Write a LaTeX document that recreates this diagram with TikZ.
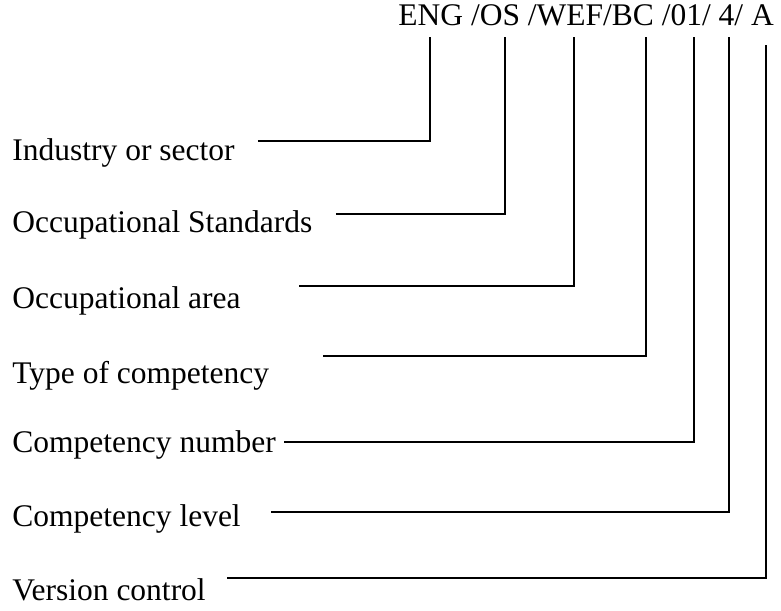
\documentclass[tikz,border=0pt]{standalone}
\usepackage{fontspec}
\setmainfont{Liberation Serif}
\usetikzlibrary{calc}

\tikzset{
  fieldname/.style={anchor=base west, inner sep=0pt, font=\fontsize{15.75}{19}\selectfont},
  leader/.style={line width=0.9pt}
}

\begin{document}
\begin{tikzpicture}[x=0.5pt,y=-0.5pt]
\useasboundingbox (0,0) rectangle (781,610);
% Code at the top
\node[fieldname] (code) at (398,26) {ENG /OS /WEF/BC /01/ 4/ A};
% Tops of the leaders, under each part of the code
\coordinate (eng) at (430,37);
\coordinate (os) at (505,37);
\coordinate (wef) at (574,37);
\coordinate (bc) at (646,37);
\coordinate (num) at (694,37);
\coordinate (lvl) at (729,37);
\coordinate (ver) at (766,45);
% Field names
\node[fieldname] (sector) at (12,161) {Industry or sector};
\node[fieldname] (standards) at (12,232) {Occupational Standards};
\node[fieldname] (area) at (12,308) {Occupational area};
\node[fieldname] (type) at (12,383) {Type of competency};
\node[fieldname] (number) at (12,452) {Competency number};
\node[fieldname] (level) at (12,526) {Competency level};
\node[fieldname] (version) at (12,600) {Version control};
% Leaders from the names up to the code
\draw[leader] (sector.base east) ++(23,-20) -| (eng);
\draw[leader] (standards.base east) ++(23,-18) -| (os);
\draw[leader] (area.base east) ++(58,-22) -| (wef);
\draw[leader] (type.base east) ++(54,-27) -| (bc);
\draw[leader] (number.base east) ++(8,-10) -| (num);
\draw[leader] (level.base east) ++(30,-14) -| (lvl);
\draw[leader] (version.base east) ++(21,-22) -| (ver);
\end{tikzpicture}
\end{document}
